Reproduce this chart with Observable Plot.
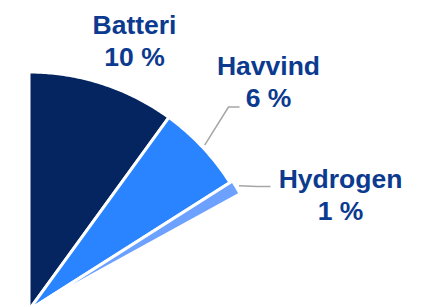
<!DOCTYPE html>
<html><head><meta charset="utf-8">
<script src="https://cdn.jsdelivr.net/npm/d3@7"></script>
<script src="https://cdn.jsdelivr.net/npm/@observablehq/plot@0.6"></script>
<style>html,body{margin:0;padding:0;background:#fff;overflow:hidden}</style>
</head><body><div id="chart"></div>
<script>
// ---- data ----
const categories = ["Batteri", "Havvind", "Hydrogen"];
const shares = [10, 6, 1];
const valueLabels = ["10 %", "6 %", "1 %"];

// ---- layout / style ----
const W = 426, H = 307;
const CX = 28.5, CY = 309.5, R = 238;          // pie centre & radius (px)
const colors = ["#052561", "#2A84FF", "#6DA1FF"];
const explode = [0, 0, 3];
const labelPos = [[134, 65], [268, 106.5], [340, 219]];   // centre x, last baseline y (px)
const leaderElbows = [null, [[228, 106.5], [239, 106.5]], [[256.5, 186], [270, 186]]];

const toX = px => (px - CX) / R, toY = py => (CY - py) / R;

let acc = 0;
const slices = categories.map((c, i) => {
  const a0 = acc / 100 * 2 * Math.PI; acc += shares[i];
  const a1 = acc / 100 * 2 * Math.PI;
  return {c, i, a0, a1, mid: (a0 + a1) / 2};
});

const pts = [];
for (const s of slices) {
  const off = explode[s.i] / R;
  const ox = off * Math.sin(s.mid), oy = off * Math.cos(s.mid);
  pts.push({c: s.c, x: ox, y: oy});
  const n = Math.max(2, Math.ceil((s.a1 - s.a0) / (Math.PI / 360)));
  for (let k = 0; k <= n; k++) {
    const a = s.a0 + (s.a1 - s.a0) * k / n;
    pts.push({c: s.c, x: ox + Math.sin(a), y: oy + Math.cos(a)});
  }
  pts.push({c: s.c, x: ox, y: oy});
}

const leaders = [];
slices.forEach(s => {
  const el = leaderElbows[s.i];
  if (!el) return;
  const r0 = 1 + (explode[s.i] + 3) / R;
  leaders.push({c: s.c, x: r0 * Math.sin(s.mid), y: r0 * Math.cos(s.mid)});
  el.forEach(([px, py]) => leaders.push({c: s.c, x: toX(px), y: toY(py)}));
});

const labels = categories.map((c, i) => ({
  text: c + "\n" + valueLabels[i],
  x: toX(labelPos[i][0]), y: toY(labelPos[i][1])
}));

const chart = Plot.plot({
  width: W, height: H, margin: 0,
  x: {domain: [toX(0), toX(W)], axis: null},
  y: {domain: [toY(H), toY(0)], axis: null},
  color: {domain: categories, range: colors},
  marks: [
    Plot.line(pts, {x: "x", y: "y", z: "c", fill: "c", stroke: "white", strokeWidth: 3, strokeLinejoin: "round"}),
    Plot.line(leaders, {x: "x", y: "y", z: "c", stroke: "#A6A6A6", strokeWidth: 1.5, strokeLinejoin: "miter", strokeLinecap: "butt"}),
    Plot.text(labels, {x: "x", y: "y", text: "text", lineAnchor: "bottom", lineHeight: 1.2075,
      fontSize: 26.5, fontWeight: "bold", fill: "#0B3A8F", fontFamily: "Liberation Sans, Arial, sans-serif"})
  ]
});
document.getElementById("chart").append(chart);
</script>
</body></html>
